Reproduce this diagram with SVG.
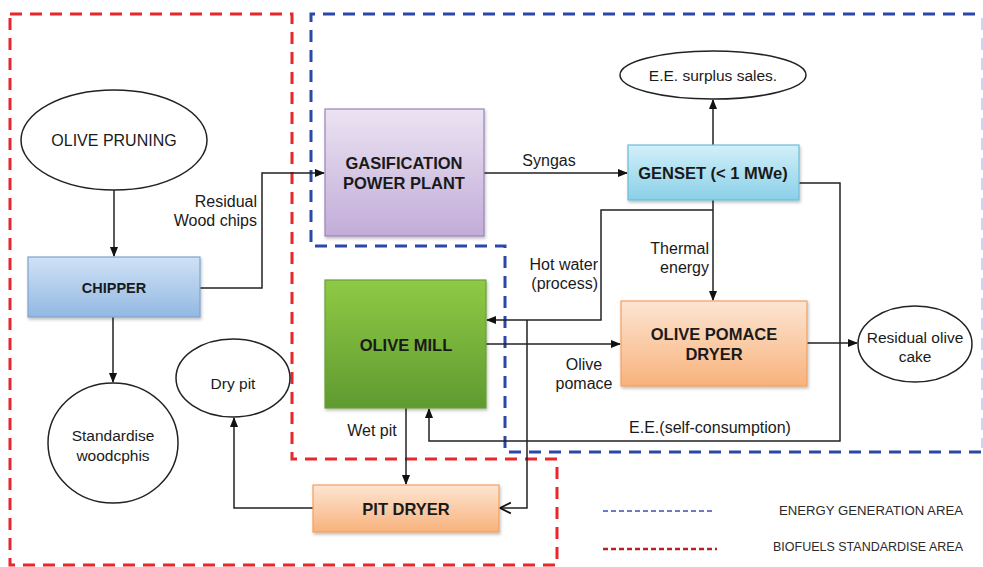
<svg xmlns="http://www.w3.org/2000/svg" width="983" height="567" viewBox="0 0 983 567">
  <defs>
    <linearGradient id="gBlue" x1="0" y1="0" x2="0" y2="1">
      <stop offset="0" stop-color="#cfe2f5"/>
      <stop offset="1" stop-color="#93b8e2"/>
    </linearGradient>
    <linearGradient id="gPurple" x1="0" y1="0" x2="0" y2="1">
      <stop offset="0" stop-color="#ebe3f2"/>
      <stop offset="1" stop-color="#c2acd8"/>
    </linearGradient>
    <linearGradient id="gCyan" x1="0" y1="0" x2="0" y2="1">
      <stop offset="0" stop-color="#d2f0f9"/>
      <stop offset="1" stop-color="#8ad0e8"/>
    </linearGradient>
    <linearGradient id="gGreen" x1="0" y1="0" x2="0" y2="1">
      <stop offset="0" stop-color="#8fca45"/>
      <stop offset="1" stop-color="#5f9a30"/>
    </linearGradient>
    <linearGradient id="gOrange" x1="0" y1="0" x2="0" y2="1">
      <stop offset="0" stop-color="#fde5d2"/>
      <stop offset="1" stop-color="#f8b27c"/>
    </linearGradient>
    <filter id="shadow" x="-10%" y="-10%" width="125%" height="130%">
      <feDropShadow dx="1" dy="2" stdDeviation="1.5" flood-color="#000" flood-opacity="0.25"/>
    </filter>
    <marker id="arrow" viewBox="0 0 10 10" refX="9" refY="5" markerWidth="7" markerHeight="7" orient="auto-start-reverse">
      <path d="M0,1 L10,5 L0,9 z" fill="#111"/>
    </marker>
    <marker id="openArrow" viewBox="0 0 10 10" refX="9" refY="5" markerWidth="9" markerHeight="9" orient="auto">
      <path d="M1,1 L9,5 L1,9" fill="none" stroke="#111" stroke-width="1.4"/>
    </marker>
  </defs>
  <style>
    .area { fill: none; stroke-width: 3; stroke-dasharray: 12 8; }
    .red { stroke: #e8262b; }
    .blue { stroke: #2a48a8; }
    .box { stroke-width: 1.2; filter: url(#shadow); }
    .oval { fill: #fff; stroke: #222; stroke-width: 1.5; }
    .lbl { font-family: "Liberation Sans", Arial, sans-serif; font-size: 16.5px; font-weight: bold; fill: #1a1a1a; text-anchor: middle; }
    .olbl { font-family: "Liberation Sans", Arial, sans-serif; font-size: 15.5px; fill: #1a1a1a; text-anchor: middle; }
    .txt { font-family: "Liberation Sans", Arial, sans-serif; font-size: 16px; fill: #1a1a1a; }
    .leg { font-family: "Liberation Sans", Arial, sans-serif; font-size: 12.5px; fill: #2a2a2a; }
    .wire { fill: none; stroke: #222; stroke-width: 1.5; }
  </style>

  <rect width="983" height="567" fill="#fff"/>

  <!-- Area outlines -->
  <g id="areas">
    <path class="area red" d="M10,14 H292 V459 H557 V565 H10 Z"/>
    <path class="area blue" d="M981,452 H505 V246 H311 V14 H981"/>
    <line x1="982" y1="18" x2="982" y2="448" stroke="#c4c4ee" stroke-width="1.5" stroke-dasharray="12 8"/>
  </g>

  <!-- Connectors -->
  <g id="connectors">
    <path class="wire" d="M114,190 V256" marker-end="url(#arrow)"/>
    <path class="wire" d="M113,317 V382" marker-end="url(#arrow)"/>
    <path class="wire" d="M200,288 H262 V173 H324" marker-end="url(#arrow)"/>
    <path class="wire" d="M484,173 H627" marker-end="url(#arrow)"/>
    <path class="wire" d="M713,145 V100" marker-end="url(#arrow)"/>
    <path class="wire" d="M713,200 V300" marker-end="url(#arrow)"/>
    <path class="wire" d="M713,210 H601 V320 H487" marker-end="url(#arrow)"/>
    <path class="wire" d="M527,320 V508 H500" marker-end="url(#openArrow)"/>
    <path class="wire" d="M486,344 H620" marker-end="url(#arrow)"/>
    <path class="wire" d="M807,343 H857" marker-end="url(#arrow)"/>
    <path class="wire" d="M799,183 H840 V441 H429 V409" marker-end="url(#arrow)"/>
    <path class="wire" d="M406,408 V484" marker-end="url(#arrow)"/>
    <path class="wire" d="M313,508 H234 V418" marker-end="url(#arrow)"/>

    <text class="txt" text-anchor="end" x="257" y="207">Residual</text>
    <text class="txt" text-anchor="end" x="257" y="226">Wood chips</text>
    <text class="txt" text-anchor="middle" x="549" y="166">Syngas</text>
    <text class="txt" text-anchor="end" x="709" y="254">Thermal</text>
    <text class="txt" text-anchor="end" x="709" y="273">energy</text>
    <text class="txt" text-anchor="end" x="598" y="270">Hot water</text>
    <text class="txt" text-anchor="end" x="598" y="289">(process)</text>
    <text class="txt" text-anchor="middle" x="584" y="370">Olive</text>
    <text class="txt" text-anchor="middle" x="584" y="389">pomace</text>
    <text class="txt" text-anchor="middle" x="710" y="433">E.E.(self-consumption)</text>
    <text class="txt" text-anchor="middle" x="372" y="436">Wet pit</text>
  </g>

  <!-- Nodes -->
  <g id="olive-pruning">
    <ellipse class="oval" cx="114" cy="140" rx="93" ry="50"/>
    <text class="olbl" x="114" y="146" style="font-size:16px">OLIVE PRUNING</text>
  </g>
  <g id="chipper">
    <rect class="box" x="28" y="257" width="172" height="60" fill="url(#gBlue)" stroke="#7fa3cf"/>
    <text class="lbl" x="114" y="293" style="font-size:14.5px">CHIPPER</text>
  </g>
  <g id="standardise-woodchips">
    <ellipse class="oval" cx="113" cy="443" rx="65" ry="60"/>
    <text class="olbl" x="113" y="441">Standardise</text>
    <text class="olbl" x="113" y="461">woodcphis</text>
  </g>
  <g id="dry-pit">
    <ellipse class="oval" cx="233" cy="378" rx="57" ry="39"/>
    <text class="olbl" x="233" y="389">Dry pit</text>
  </g>
  <g id="gasification">
    <rect class="box" x="325" y="109" width="159" height="127" fill="url(#gPurple)" stroke="#9a84b5"/>
    <text class="lbl" x="404" y="169">GASIFICATION</text>
    <text class="lbl" x="404" y="189">POWER PLANT</text>
  </g>
  <g id="genset">
    <rect class="box" x="628" y="145" width="171" height="55" fill="url(#gCyan)" stroke="#6cbcd8"/>
    <text class="lbl" x="713" y="179">GENSET (&lt; 1 MWe)</text>
  </g>
  <g id="ee-surplus">
    <ellipse class="oval" cx="713" cy="75" rx="93" ry="24"/>
    <text class="olbl" x="713" y="81">E.E. surplus sales.</text>
  </g>
  <g id="olive-mill">
    <rect class="box" x="325" y="280" width="161" height="128" fill="url(#gGreen)" stroke="#6a9e3a"/>
    <text class="lbl" x="406" y="351">OLIVE MILL</text>
  </g>
  <g id="pomace-dryer">
    <rect class="box" x="621" y="301" width="186" height="85" fill="url(#gOrange)" stroke="#f0a060"/>
    <text class="lbl" x="714" y="340">OLIVE POMACE</text>
    <text class="lbl" x="714" y="360">DRYER</text>
  </g>
  <g id="residual-cake">
    <ellipse class="oval" cx="915" cy="344" rx="57" ry="38"/>
    <text class="olbl" x="915" y="343">Residual olive</text>
    <text class="olbl" x="915" y="362">cake</text>
  </g>
  <g id="pit-dryer">
    <rect class="box" x="313" y="485" width="186" height="47" fill="url(#gOrange)" stroke="#f0a060"/>
    <text class="lbl" x="406" y="515">PIT DRYER</text>
  </g>

  <!-- Legend -->
  <g id="legend">
    <line x1="603" y1="511" x2="712" y2="511" stroke="#3b4fb8" stroke-width="1.5" stroke-dasharray="5 3"/>
    <text class="leg" x="779" y="515" textLength="184" lengthAdjust="spacingAndGlyphs">ENERGY GENERATION AREA</text>
    <line x1="603" y1="549" x2="717" y2="549" stroke="#b8202a" stroke-width="2.5" stroke-dasharray="5 3"/>
    <text class="leg" x="773" y="551" textLength="190" lengthAdjust="spacingAndGlyphs">BIOFUELS STANDARDISE AREA</text>
  </g>
</svg>
